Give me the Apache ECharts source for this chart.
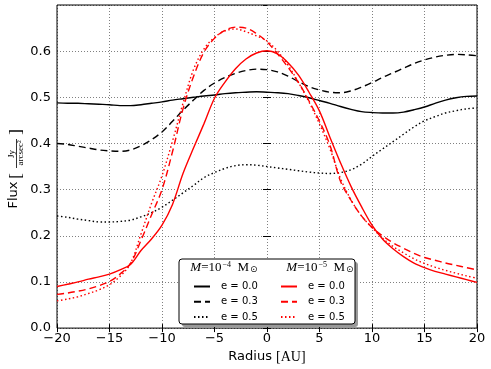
<!DOCTYPE html>
<html><head><meta charset="utf-8">
<script src="https://cdn.jsdelivr.net/npm/echarts@6/dist/echarts.min.js"></script>
<style>html,body{margin:0;padding:0;background:#fff}#c{width:491px;height:369px}</style>
</head><body><div id="c"></div>
<script>
const radius = [-20,-19,-18,-17,-16,-15,-14,-13,-12,-11,-10,-9,-8,-7,-6,-5,-4,-3,-2,-1,0,1,2,3,4,5,6,7,8,9,10,11,12,13,14,15,16,17,18,19,20];
// M = 1e-4 Msun
const m4e00 = [.488,.487,.487,.486,.485,.484,.482,.482,.484,.487,.490,.494,.497,.500,.503,.505,.508,.510,.511,.512,.511,.510,.508,.504,.499,.493,.487,.480,.474,.469,.467,.466,.466,.468,.473,.479,.487,.494,.499,.502,.503];
const m4e03 = [.400,.398,.394,.390,.386,.384,.383,.386,.395,.408,.425,.448,.472,.494,.515,.531,.543,.552,.558,.561,.560,.555,.546,.534,.523,.516,.511,.510,.514,.522,.532,.543,.553,.563,.573,.581,.587,.591,.593,.592,.590];
const m4e05 = [.243,.240,.236,.233,.230,.230,.231,.234,.241,.250,.262,.277,.293,.309,.326,.337,.346,.352,.354,.353,.350,.347,.344,.341,.338,.336,.335,.337,.343,.355,.372,.388,.404,.420,.436,.449,.458,.466,.471,.475,.477];
// M = 1e-5 Msun
const m5e00 = [.090,.095,.100,.106,.111,.117,.126,.138,.168,.193,.223,.268,.335,.390,.443,.498,.533,.562,.583,.596,.601,.594,.575,.548,.511,.470,.413,.358,.307,.263,.223,.193,.172,.155,.141,.131,.123,.117,.111,.105,.099];
const m5e03 = [.073,.076,.080,.085,.092,.101,.117,.140,.190,.245,.300,.382,.475,.545,.598,.628,.645,.652,.650,.638,.620,.594,.565,.532,.492,.448,.396,.318,.277,.243,.218,.200,.185,.173,.162,.153,.147,.141,.136,.131,.126];
const m5e05 = [.059,.063,.068,.075,.083,.094,.112,.140,.204,.270,.330,.405,.487,.560,.605,.630,.644,.648,.642,.633,.622,.600,.570,.532,.490,.442,.388,.324,.278,.243,.218,.195,.177,.163,.150,.140,.132,.125,.119,.113,.108];

const xTicks = {min: -20, max: 20, interval: 5};
const yTicks = {min: 0, max: 0.7, interval: 0.1};

const pairs = v => radius.map((r, i) => [r, v[i]]);
const dashT = [7, 4], dotT = [1.5, 2.5];
function mk(name, vals, color, type) {
  return {name, type: 'line', data: pairs(vals), symbol: 'none', smooth: 0.35, z: 2,
    lineStyle: {color, width: 1.4, type}, itemStyle: {color}, animation: false};
}
const series = [
  mk('A|e = 0.0', m4e00, '#000', 'solid'),
  mk('A|e = 0.3', m4e03, '#000', dashT),
  mk('A|e = 0.5', m4e05, '#000', dotT),
  mk('B|e = 0.0', m5e00, '#ff0000', 'solid'),
  mk('B|e = 0.3', m5e03, '#ff0000', dashT),
  mk('B|e = 0.5', m5e05, '#ff0000', dotT)
];
const fmtNum = v => (v < 0 ? '\u2212' + Math.abs(v) : String(v));
const lab = {color: '#000', fontSize: 13, fontFamily: 'DejaVu Sans'};
const tick = {show: true, inside: true, length: 4, lineStyle: {color: '#000', width: 1}};
const split = {show: true, lineStyle: {color: '#808080', width: 1, type: [1, 2]}};
const legendBase = {orient: 'vertical', selectedMode: false, itemWidth: 16, itemHeight: 10, itemGap: 5.3,
  padding: 0, top: 281.5, z: 6,
  itemStyle: {opacity: 0, borderWidth: 0},
  textStyle: {fontSize: 10, fontFamily: 'DejaVu Sans', color: '#000', padding: [0, 0, 0, 6]},
  formatter: n => n.split('|')[1]};
const titleRich = {
  i: {fontFamily: 'Liberation Serif', fontStyle: 'italic', fontSize: 13, color: '#000'},
  n: {fontFamily: 'Liberation Serif', fontSize: 13, color: '#000'},
  sup: {fontFamily: 'Liberation Serif', fontSize: 8, color: '#000', padding: [0, 0, 7, 1]},
  sub: {fontFamily: 'DejaVu Sans', fontSize: 9, color: '#000', padding: [4, 0, 0, 1]}
};
const ser = {fontFamily: 'Liberation Serif', fill: '#000'};
const option = {
  animation: false,
  backgroundColor: '#fff',
  grid: {left: 57, right: 14, top: 5, bottom: 39, show: true, borderColor: '#000', borderWidth: 1, z: 1},
  xAxis: [
    {type: 'value', ...xTicks, position: 'bottom', axisLine: {show: false}, axisTick: tick, splitLine: split,
      axisLabel: {...lab, margin: 4, formatter: fmtNum},
      name: '{a|Radius }{b|[AU]}', nameLocation: 'middle', nameGap: 21,
      nameTextStyle: {rich: {a: {fontSize: 13, fontFamily: 'DejaVu Sans', color: '#000'}, b: {fontSize: 14, fontFamily: 'Liberation Serif', color: '#000'}}}},
    {type: 'value', ...xTicks, position: 'top', axisLine: {show: false}, axisTick: tick, splitLine: {show: false}, axisLabel: {show: false}}
  ],
  yAxis: [
    {type: 'value', ...yTicks, position: 'left', axisLine: {show: false}, axisTick: tick, splitLine: split,
      axisLabel: {...lab, margin: 6, showMaxLabel: false, formatter: v => v.toFixed(1)}},
    {type: 'value', ...yTicks, position: 'right', axisLine: {show: false}, axisTick: tick, splitLine: {show: false}, axisLabel: {show: false}}
  ],
  legend: [
    {...legendBase, left: 193, data: ['A|e = 0.0', 'A|e = 0.3', 'A|e = 0.5']},
    {...legendBase, left: 280, data: ['B|e = 0.0', 'B|e = 0.3', 'B|e = 0.5']}
  ],
  graphic: [
    {type: 'rect', z: 3, shape: {x: 182, y: 262, width: 176, height: 65, r: 3}, style: {fill: '#9a9a9a', stroke: null}, silent: true},
    {type: 'rect', z: 4, shape: {x: 179, y: 259, width: 176, height: 65, r: 3}, style: {fill: '#fff', stroke: '#000', lineWidth: 1}, silent: true},
    {type: 'text', z: 7, x: 224, y: 268, style: {text: '{i|M}{n|=10}{sup|\u22124}{n|  M}{sub|\u2299}', rich: titleRich, align: 'center', verticalAlign: 'middle'}},
    {type: 'text', z: 7, x: 320, y: 268, style: {text: '{i|M}{n|=10}{sup|\u22125}{n|  M}{sub|\u2299}', rich: titleRich, align: 'center', verticalAlign: 'middle'}},
    // y-axis name
    {type: 'text', z: 7, x: 14, y: 195, rotation: Math.PI / 2, style: {text: 'Flux', fontSize: 13, fontFamily: 'DejaVu Sans', fill: '#000', align: 'center', verticalAlign: 'middle'}},
    {type: 'text', z: 7, x: 16.5, y: 176, rotation: Math.PI / 2, style: {...ser, text: '[', fontSize: 17, align: 'center', verticalAlign: 'middle'}},
    {type: 'text', z: 7, x: 12, y: 154, rotation: Math.PI / 2, style: {...ser, text: 'Jy', fontSize: 9, align: 'center', verticalAlign: 'middle'}},
    {type: 'line', z: 7, shape: {x1: 16.5, y1: 139, x2: 16.5, y2: 168}, style: {stroke: '#000', lineWidth: 0.8}},
    {type: 'text', z: 7, x: 21, y: 153, rotation: Math.PI / 2, style: {...ser, text: 'arcsec\u00b2', fontSize: 9, align: 'center', verticalAlign: 'middle'}},
    {type: 'text', z: 7, x: 16.5, y: 132, rotation: Math.PI / 2, style: {...ser, text: ']', fontSize: 17, align: 'center', verticalAlign: 'middle'}}
  ],
  series
};
const chart = echarts.init(document.getElementById('c'), null, {renderer: 'canvas'});
chart.setOption(option);
</script></body></html>
